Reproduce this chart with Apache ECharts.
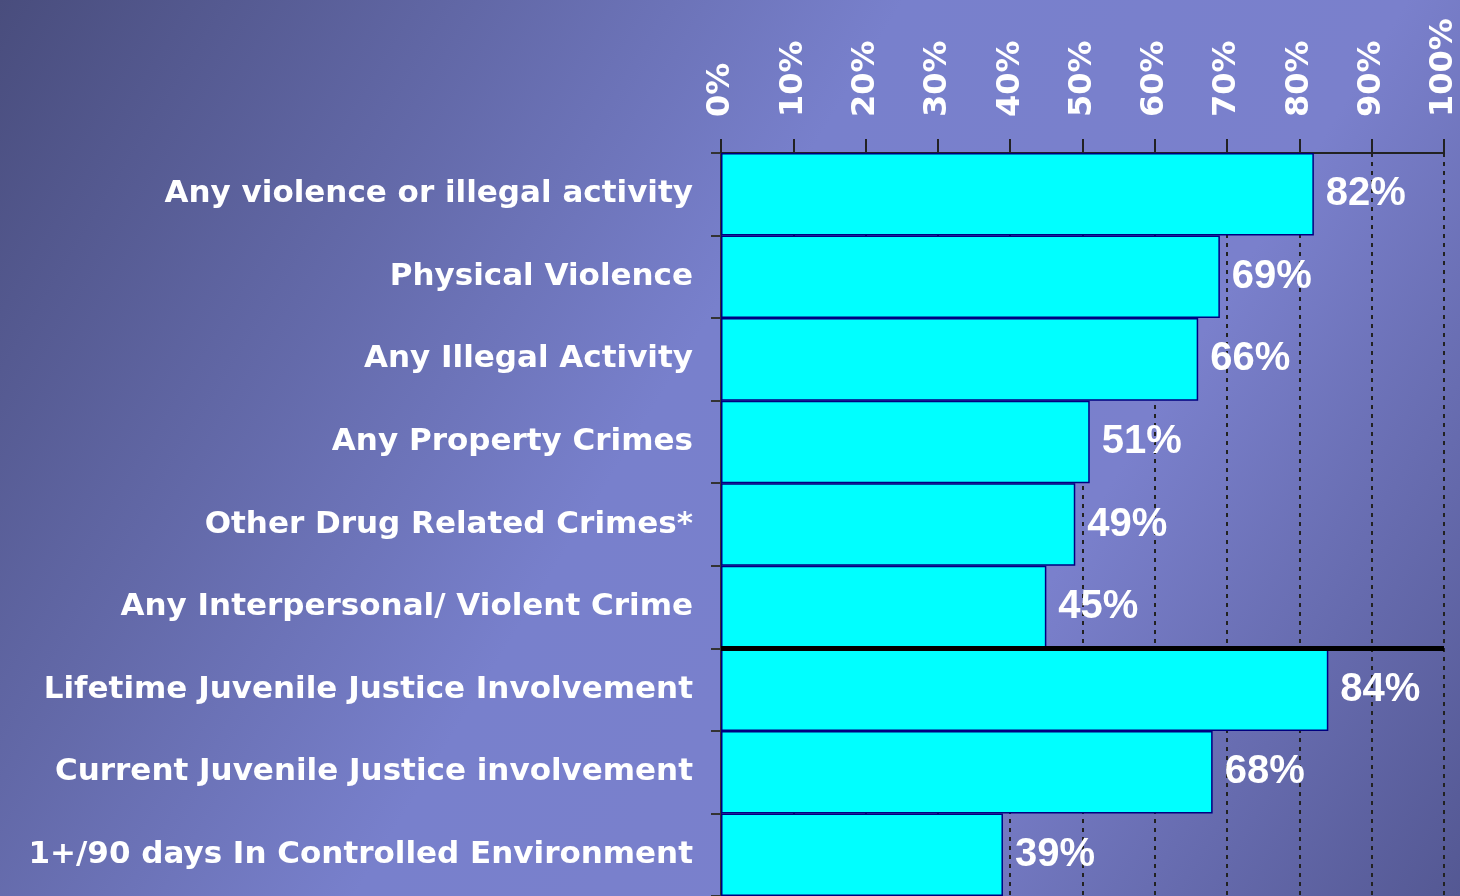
<!DOCTYPE html>
<html>
<head>
<meta charset="utf-8">
<script src="https://cdn.jsdelivr.net/npm/echarts@6/dist/echarts.min.js"></script>
<style>
  html, body { margin: 0; padding: 0; }
  #chart { width: 1460px; height: 896px; }
</style>
</head>
<body>
<div id="chart"></div>
<script>
// categories top to bottom
var categories = [
    'Any violence or illegal activity',
    'Physical Violence',
    'Any Illegal Activity',
    'Any Property Crimes',
    'Other Drug Related Crimes*',
    'Any Interpersonal/ Violent Crime',
    'Lifetime Juvenile Justice Involvement',
    'Current Juvenile Justice involvement',
    '1+/90 days In Controlled Environment'
];
var percents = [82, 69, 66, 51, 49, 45, 84, 68, 39];
var groupBreak = 6; // black line after the first 6 rows

var chart = echarts.init(document.getElementById('chart'));
chart.setOption({
    animation: false,
    backgroundColor: {
        type: 'linear',
        x: 0, y: 0, x2: 1, y2: 1,
        colorStops: [
            {offset: 0, color: '#494d7d'},
            {offset: 0.45, color: '#7880cc'},
            {offset: 0.7, color: '#7a80cc'},
            {offset: 1, color: '#545893'}
        ]
    },
    grid: {left: 721, right: 16, top: 153, bottom: 0},
    xAxis: {
        type: 'value',
        position: 'top',
        min: 0,
        max: 100,
        interval: 10,
        axisLine: {show: true, lineStyle: {color: '#222', width: 2}},
        axisTick: {show: true, length: 14, lineStyle: {color: '#222', width: 2}},
        axisLabel: {
            formatter: '{value}%',
            rotate: 90,
            margin: 36,
            color: '#fff',
            fontFamily: 'DejaVu Sans',
            fontWeight: 'bold',
            fontSize: 32
        },
        splitLine: {show: true, lineStyle: {color: '#222', width: 2, type: [4, 5]}}
    },
    yAxis: [{
        type: 'category',
        data: categories,
        inverse: true,
        axisLine: {show: true, lineStyle: {color: '#333', width: 2}},
        axisTick: {show: true, length: 10, lineStyle: {color: '#333', width: 2}},
        axisLabel: {
            margin: 28,
            color: '#fff',
            fontFamily: 'DejaVu Sans',
            fontWeight: 'bold',
            fontSize: 31
        }
    }, {
        type: 'value',
        min: 0,
        max: categories.length,
        inverse: true,
        show: false
    }],
    series: [{
        type: 'bar',
        data: percents,
        barCategoryGap: '0%',
        itemStyle: {color: '#00ffff', borderColor: '#000080', borderWidth: 1.5},
        label: {
            show: true,
            position: 'right',
            distance: 12,
            formatter: '{c}%',
            color: '#fff',
            fontFamily: 'Liberation Sans',
            fontWeight: 'bold',
            fontSize: 40
        }
    }, {
        type: 'line',
        yAxisIndex: 1,
        data: [],
        markLine: {
            silent: true,
            symbol: 'none',
            label: {show: false},
            lineStyle: {color: '#000', width: 5, type: 'solid'},
            data: [{yAxis: groupBreak}]
        }
    }]
});
</script>
</body>
</html>
